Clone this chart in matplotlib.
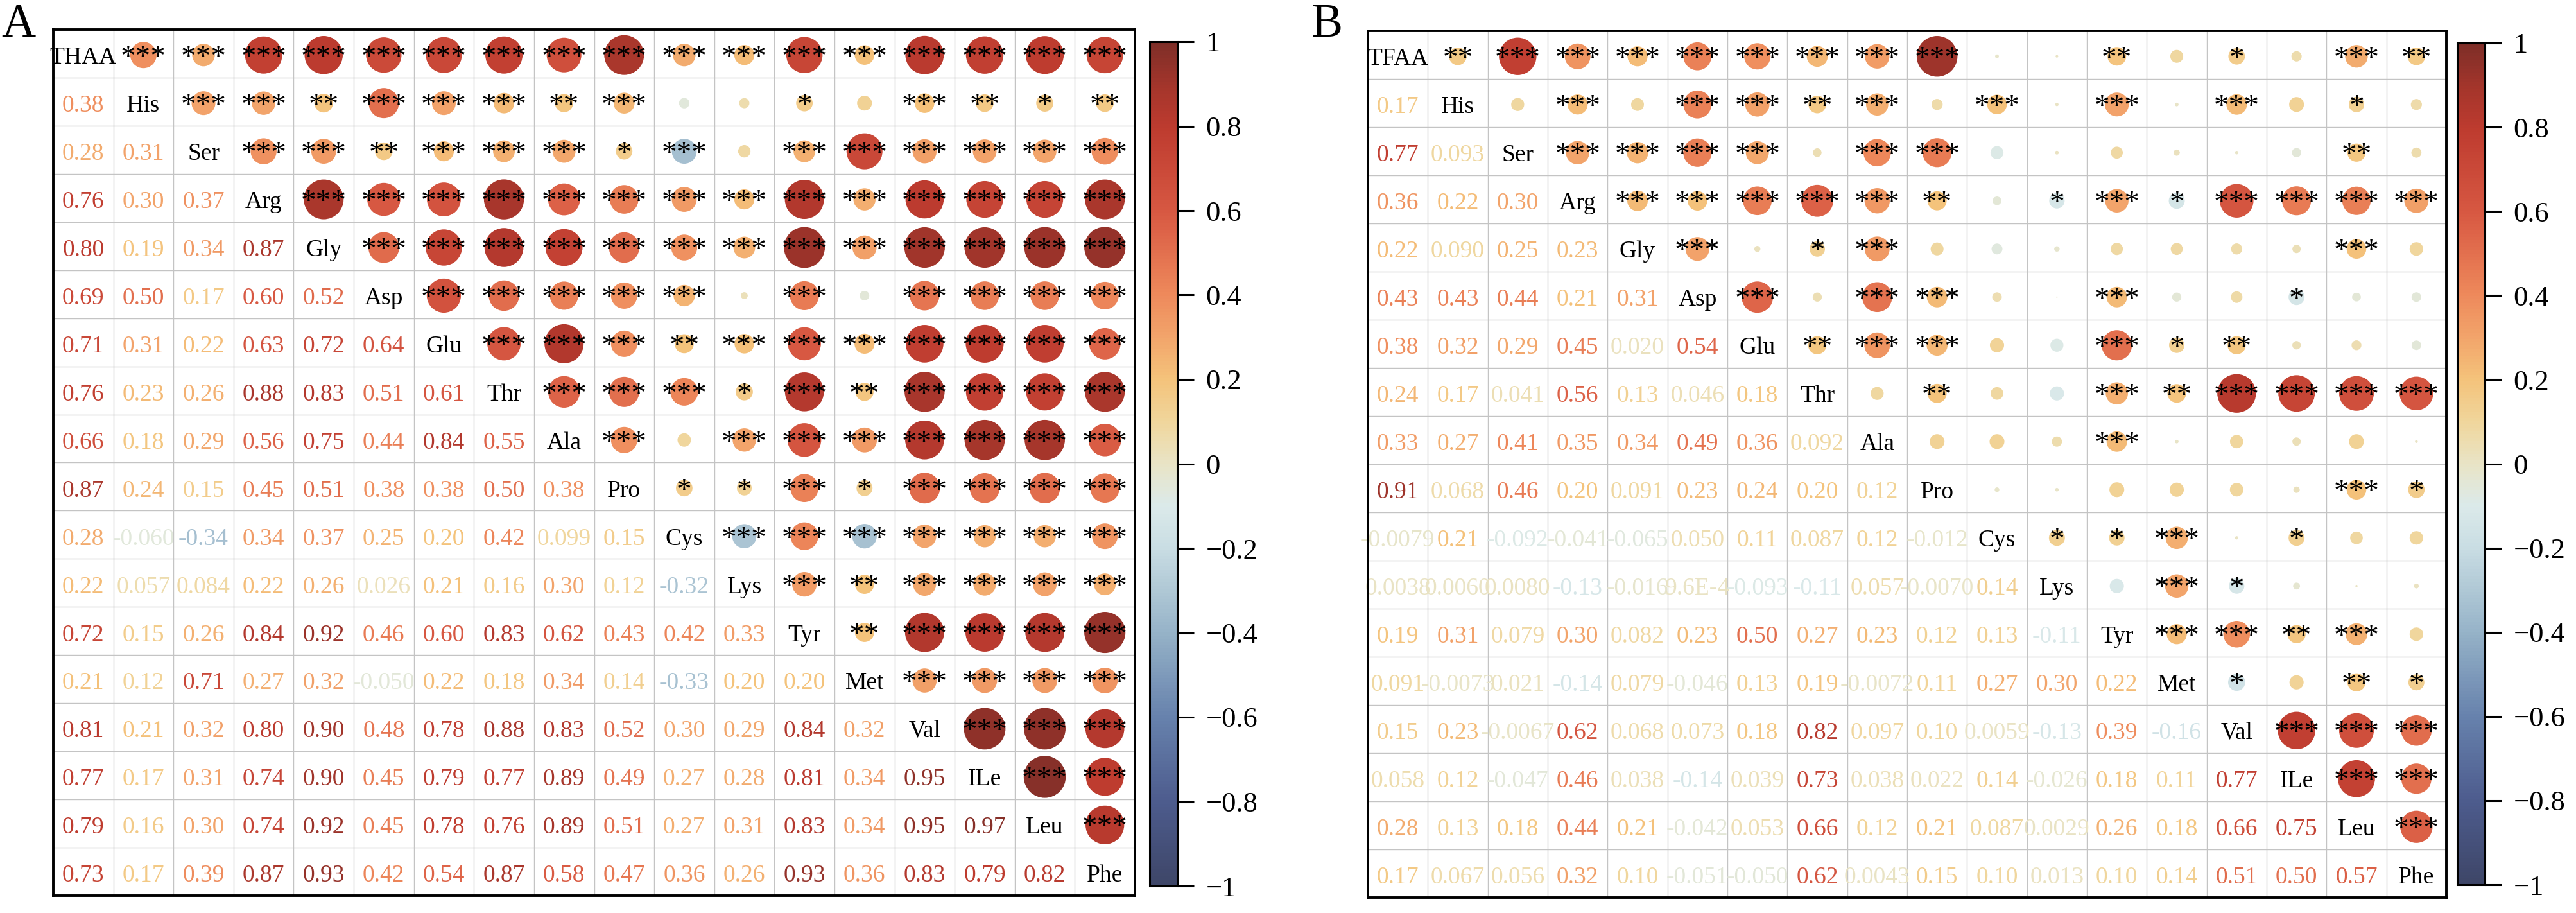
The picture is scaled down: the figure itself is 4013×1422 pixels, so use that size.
import numpy as np
import matplotlib.pyplot as plt
from matplotlib.colors import LinearSegmentedColormap, Normalize
from matplotlib.cm import ScalarMappable
from matplotlib.patches import Ellipse
from matplotlib.ticker import FuncFormatter

plt.rcParams['font.family'] = ['Liberation Serif', 'DejaVu Serif']

# ---------------- data ----------------
amino_a = ['THAA', 'His', 'Ser', 'Arg', 'Gly', 'Asp', 'Glu', 'Thr', 'Ala',
           'Pro', 'Cys', 'Lys', 'Tyr', 'Met', 'Val', 'ILe', 'Leu', 'Phe']
amino_b = ['TFAA'] + amino_a[1:]

# lower triangle, row i holds r(i, 0..i-1)
r_a = [
    [],
    [0.38],
    [0.28, 0.31],
    [0.76, 0.30, 0.37],
    [0.80, 0.19, 0.34, 0.87],
    [0.69, 0.50, 0.17, 0.60, 0.52],
    [0.71, 0.31, 0.22, 0.63, 0.72, 0.64],
    [0.76, 0.23, 0.26, 0.88, 0.83, 0.51, 0.61],
    [0.66, 0.18, 0.29, 0.56, 0.75, 0.44, 0.84, 0.55],
    [0.87, 0.24, 0.15, 0.45, 0.51, 0.38, 0.38, 0.50, 0.38],
    [0.28, -0.060, -0.34, 0.34, 0.37, 0.25, 0.20, 0.42, 0.099, 0.15],
    [0.22, 0.057, 0.084, 0.22, 0.26, 0.026, 0.21, 0.16, 0.30, 0.12, -0.32],
    [0.72, 0.15, 0.26, 0.84, 0.92, 0.46, 0.60, 0.83, 0.62, 0.43, 0.42, 0.33],
    [0.21, 0.12, 0.71, 0.27, 0.32, -0.050, 0.22, 0.18, 0.34, 0.14, -0.33, 0.20, 0.20],
    [0.81, 0.21, 0.32, 0.80, 0.90, 0.48, 0.78, 0.88, 0.83, 0.52, 0.30, 0.29, 0.84, 0.32],
    [0.77, 0.17, 0.31, 0.74, 0.90, 0.45, 0.79, 0.77, 0.89, 0.49, 0.27, 0.28, 0.81, 0.34, 0.95],
    [0.79, 0.16, 0.30, 0.74, 0.92, 0.45, 0.78, 0.76, 0.89, 0.51, 0.27, 0.31, 0.83, 0.34, 0.95, 0.97],
    [0.73, 0.17, 0.39, 0.87, 0.93, 0.42, 0.54, 0.87, 0.58, 0.47, 0.36, 0.26, 0.93, 0.36, 0.83, 0.79, 0.82],
]

r_b = [
    [],
    [0.17],
    [0.77, 0.093],
    [0.36, 0.22, 0.30],
    [0.22, 0.090, 0.25, 0.23],
    [0.43, 0.43, 0.44, 0.21, 0.31],
    [0.38, 0.32, 0.29, 0.45, 0.020, 0.54],
    [0.24, 0.17, 0.041, 0.56, 0.13, 0.046, 0.18],
    [0.33, 0.27, 0.41, 0.35, 0.34, 0.49, 0.36, 0.092],
    [0.91, 0.068, 0.46, 0.20, 0.091, 0.23, 0.24, 0.20, 0.12],
    [-0.0079, 0.21, -0.092, -0.041, -0.065, 0.050, 0.11, 0.087, 0.12, -0.012],
    [0.0038, 0.0060, 0.0080, -0.13, -0.016, 0.00096, -0.093, -0.11, 0.057, -0.0070, 0.14],
    [0.19, 0.31, 0.079, 0.30, 0.082, 0.23, 0.50, 0.27, 0.23, 0.12, 0.13, -0.11],
    [0.091, -0.0073, 0.021, -0.14, 0.079, -0.046, 0.13, 0.19, -0.0072, 0.11, 0.27, 0.30, 0.22],
    [0.15, 0.23, -0.0067, 0.62, 0.068, 0.073, 0.18, 0.82, 0.097, 0.10, 0.0059, -0.13, 0.39, -0.16],
    [0.058, 0.12, -0.047, 0.46, 0.038, -0.14, 0.039, 0.73, 0.038, 0.022, 0.14, -0.026, 0.18, 0.11, 0.77],
    [0.28, 0.13, 0.18, 0.44, 0.21, -0.042, 0.053, 0.66, 0.12, 0.21, 0.087, 0.0029, 0.26, 0.18, 0.66, 0.75],
    [0.17, 0.067, 0.056, 0.32, 0.10, -0.051, -0.050, 0.62, 0.0043, 0.15, 0.10, 0.013, 0.10, 0.14, 0.51, 0.50, 0.57],
]

# significance stars in the upper triangle, row i holds cells (i, i+1..n-1)
sig_a = [
    [3] * 17,
    [3, 3, 2, 3, 3, 3, 2, 3, 0, 0, 1, 0, 3, 2, 1, 2],
    [3, 3, 2, 3, 3, 3, 1, 3, 0, 3, 3, 3, 3, 3, 3],
    [3] * 14,
    [3] * 13,
    [3, 3, 3, 3, 3, 0, 3, 0, 3, 3, 3, 3],
    [3, 3, 3, 2, 3, 3, 3, 3, 3, 3, 3],
    [3, 3, 3, 1, 3, 2, 3, 3, 3, 3],
    [3, 0, 3, 3, 3, 3, 3, 3, 3],
    [1, 1, 3, 1, 3, 3, 3, 3],
    [3, 3, 3, 3, 3, 3, 3],
    [3, 2, 3, 3, 3, 3],
    [2, 3, 3, 3, 3],
    [3, 3, 3, 3],
    [3, 3, 3],
    [3, 3],
    [3],
]

sig_b = [
    [2, 3, 3, 3, 3, 3, 3, 3, 3, 0, 0, 2, 0, 1, 0, 3, 2],
    [0, 3, 0, 3, 3, 2, 3, 0, 3, 0, 3, 0, 3, 0, 1, 0],
    [3, 3, 3, 3, 0, 3, 3, 0, 0, 0, 0, 0, 0, 2, 0],
    [3, 3, 3, 3, 3, 2, 0, 1, 3, 1, 3, 3, 3, 3],
    [3, 0, 1, 3, 0, 0, 0, 0, 0, 0, 0, 3, 0],
    [3, 0, 3, 3, 0, 0, 3, 0, 0, 1, 0, 0],
    [2, 3, 3, 0, 0, 3, 1, 2, 0, 0, 0],
    [0, 2, 0, 0, 3, 2, 3, 3, 3, 3],
    [0, 0, 0, 3, 0, 0, 0, 0, 0],
    [0, 0, 0, 0, 0, 0, 3, 1],
    [1, 1, 3, 0, 1, 0, 0],
    [0, 3, 1, 0, 0, 0],
    [3, 3, 2, 3, 0],
    [1, 0, 2, 1],
    [3, 3, 3],
    [3, 3],
    [3],
]

# ---------------- colours ----------------
cmap_nodes = [
    (-1.0, '#3e4668'), (-0.8, '#4d5c8e'), (-0.6, '#6782ad'),
    (-0.4, '#96b3c8'), (-0.2, '#c9dde3'), (-0.1, '#dbeaea'),
    (0.0, '#e9e4c6'), (0.1, '#f0d69c'), (0.2, '#f4c37b'),
    (0.3, '#f2a56b'), (0.4, '#ee8a5c'), (0.5, '#e3704f'),
    (0.6, '#d75842'), (0.8, '#bd3b2f'), (0.9, '#a3352b'), (1.0, '#7e2e28'),
]
cmap = LinearSegmentedColormap.from_list(
    'corr', [((v + 1) / 2, c) for v, c in cmap_nodes], N=256)
norm = Normalize(-1, 1)

FS_NUM = 27
FS_STAR = 34
W, H = 4013, 1422


def fmt(v):
    a = abs(v)
    if a >= 0.1:
        return f'{v:.2f}'
    if a >= 0.01:
        return f'{v:.3f}'
    if a >= 0.001:
        return f'{v:.4f}'
    return f'{v:.1E}'.replace('E-0', 'E-')


def draw_corr(ax, cax, labels, lower, stars):
    n = len(labels)
    m = np.eye(n)
    for i, row in enumerate(lower):
        for j, v in enumerate(row):
            m[i, j] = v
            m[j, i] = v

    ax.set_xlim(-0.5, n - 0.5)
    ax.set_ylim(n - 0.5, -0.5)
    ax.set_xticks([])
    ax.set_yticks([])
    for s in ax.spines.values():
        s.set_linewidth(2.8)
        s.set_zorder(10)

    edges = np.arange(n + 1) - 0.5
    ax.hlines(edges, -0.5, n - 0.5, color='#c4c4c4', lw=1.0, zorder=1)
    ax.vlines(edges, -0.5, n - 0.5, color='#c4c4c4', lw=1.0, zorder=1)

    # circle size in data units so the circles stay round on screen
    bb = ax.get_position()
    cell_w = bb.width * W / n
    cell_h = bb.height * H / n
    d_full = 0.887 * cell_h

    for i in range(n):
        for j in range(n):
            v = m[i, j]
            if i == j:
                ax.text(j, i + 0.21, labels[i], ha='center', va='baseline',
                        fontsize=FS_NUM, color='black', zorder=4)
            elif i > j:
                ax.text(j, i + 0.21, fmt(v), ha='center', va='baseline',
                        fontsize=FS_NUM, color=cmap(norm(v)), zorder=4)
            else:
                d = d_full * np.sqrt(abs(v))
                ax.add_patch(Ellipse((j, i + 0.03), d / cell_w, d / cell_h,
                                     facecolor=cmap(norm(v)), edgecolor='none',
                                     zorder=2))
                k = stars[i][j - i - 1]
                if k:
                    ax.text(j, i + 0.25, '*' * k, ha='center', va='baseline',
                            fontsize=FS_STAR, color='black', zorder=5)

    cb = plt.colorbar(ScalarMappable(norm=norm, cmap=cmap), cax=cax,
                      ticks=np.linspace(-1, 1, 11))
    cb.outline.set_linewidth(2.2)
    cax.yaxis.set_major_formatter(FuncFormatter(
        lambda x, p: f'{round(x, 1):g}'.replace('-', '\u2212')))
    cax.tick_params(labelsize=32, length=19, width=2.2, pad=13, direction='out')


fig = plt.figure(figsize=(W / 100, H / 100), dpi=100)

ax_a = fig.add_axes([83 / W, 1 - 1395 / H, 1685 / W, 1349 / H])
cax_a = fig.add_axes([1791 / W, 1 - 1380 / H, 43 / W, 1315 / H])
ax_b = fig.add_axes([2131 / W, 1 - 1398 / H, 1680 / W, 1350 / H])
cax_b = fig.add_axes([3828 / W, 1 - 1378 / H, 43 / W, 1311 / H])

draw_corr(ax_a, cax_a, amino_a, r_a, sig_a)
draw_corr(ax_b, cax_b, amino_b, r_b, sig_b)

fig.text(2 / W, 1 - 57 / H, 'A', fontsize=53, va='baseline', ha='left')
fig.text(2043 / W, 1 - 57 / H, 'B', fontsize=53, va='baseline', ha='left')

fig.savefig('out.png', dpi=100)
